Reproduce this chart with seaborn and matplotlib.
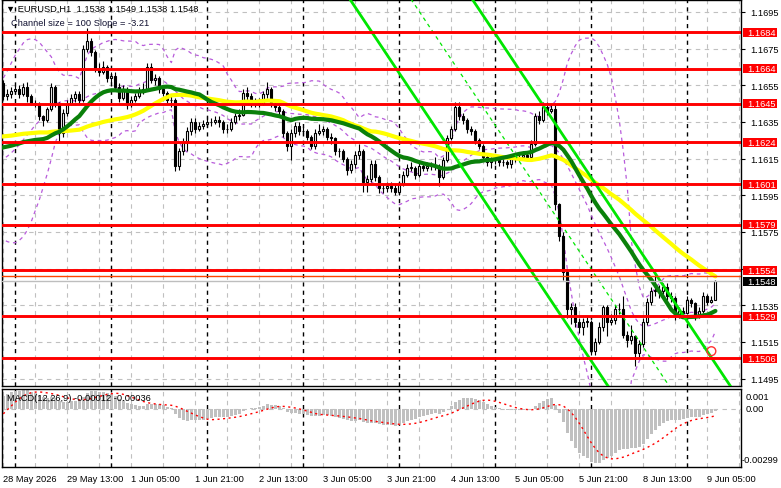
import numpy as np
import pandas as pd
import matplotlib
matplotlib.use('Agg')
import matplotlib.pyplot as plt
import matplotlib.transforms as mtransforms
from matplotlib.patches import Rectangle
import seaborn as sns

sns.set_style('white')
plt.rcParams['font.family'] = ['Liberation Sans', 'DejaVu Sans']

# H1 closes before the first visible bar (28 May), estimated from where the
# indicators start on the left edge; the last one is the open of bar 0
hist_closes = [1.1640, 1.1638, 1.1642, 1.1637, 1.1634, 1.1636, 1.1639, 1.1635, 1.1632, 1.1634,
               1.1638, 1.1641, 1.1637, 1.1633, 1.1630, 1.1632, 1.1636, 1.1640, 1.1639, 1.1635,
               1.1633, 1.1636, 1.1638, 1.1635, 1.1631, 1.1633, 1.1636, 1.1634, 1.1633,
               1.1632, 1.1628, 1.1622, 1.1615, 1.1610, 1.1604, 1.1600, 1.1596,
               1.1593, 1.1590, 1.1594, 1.1592, 1.1597, 1.1599, 1.1603,
               1.1612, 1.1626, 1.1638, 1.1648, 1.1654, 1.1656]

# visible EURUSD H1 bars, 28 May 21:00 -> 9 Jun 07:00
closes = [1.1649, 1.1650, 1.1652, 1.1653, 1.1650, 1.1654, 1.1649, 1.1645, 1.1645, 1.1638,
          1.1636, 1.1642, 1.1654, 1.1645, 1.1629, 1.1640, 1.1645, 1.1648, 1.1650, 1.1647,
          1.1675, 1.1679, 1.1673, 1.1664, 1.1662, 1.1665, 1.1659, 1.1660, 1.1654, 1.1648,
          1.1653, 1.1644, 1.1647, 1.1649, 1.1652, 1.1653, 1.1665, 1.1658, 1.1659, 1.1653,
          1.1651, 1.1647, 1.1647, 1.1611, 1.1619, 1.1624, 1.1630, 1.1635, 1.1631, 1.1633,
          1.1634, 1.1635, 1.1635, 1.1636, 1.1635, 1.1631, 1.1631, 1.1635, 1.1638, 1.1639,
          1.1651, 1.1649, 1.1645, 1.1645, 1.1645, 1.1650, 1.1653, 1.1645, 1.1643, 1.1641,
          1.1629, 1.1622, 1.1629, 1.1633, 1.1630, 1.1630, 1.1627, 1.1622, 1.1629, 1.1630,
          1.1631, 1.1627, 1.1626, 1.1619, 1.1619, 1.1615, 1.1609, 1.1612, 1.1617, 1.1619,
          1.1602, 1.1604, 1.1612, 1.1605, 1.1599, 1.1599, 1.1600, 1.1599, 1.1597, 1.1601,
          1.1606, 1.1610, 1.1610, 1.1606, 1.1611, 1.1610, 1.1611, 1.1611, 1.1611, 1.1605,
          1.1614, 1.1626, 1.1631, 1.1643, 1.1638, 1.1636, 1.1631, 1.1630, 1.1625, 1.1622,
          1.1616, 1.1613, 1.1614, 1.1614, 1.1613, 1.1613, 1.1612, 1.1615, 1.1615, 1.1616,
          1.1617, 1.1616, 1.1623, 1.1638, 1.1636, 1.1643, 1.1641, 1.1642, 1.1590, 1.1573,
          1.1553, 1.1533, 1.1534, 1.1526, 1.1523, 1.1526, 1.1526, 1.1510, 1.1515, 1.1523,
          1.1534, 1.1526, 1.1527, 1.1533, 1.1533, 1.1519, 1.1516, 1.1518, 1.1509, 1.1514,
          1.1526, 1.1537, 1.1543, 1.1543, 1.1543, 1.1545, 1.1540, 1.1539, 1.1529, 1.1532,
          1.1531, 1.1538, 1.1536, 1.1529, 1.1532, 1.1540, 1.1537, 1.1538, 1.1548]

highs = [1.1658, 1.1653, 1.1654, 1.1655, 1.1655, 1.1656, 1.1657, 1.1650, 1.1647, 1.1646,
         1.1639, 1.1643, 1.1656, 1.1655, 1.1646, 1.1642, 1.1647, 1.1650, 1.1652, 1.1652,
         1.1677, 1.1686, 1.1681, 1.1674, 1.1667, 1.1668, 1.1666, 1.1662, 1.1662, 1.1656,
         1.1655, 1.1654, 1.1649, 1.1651, 1.1654, 1.1656, 1.1667, 1.1667, 1.1661, 1.1660,
         1.1655, 1.1652, 1.1649, 1.1648, 1.1621, 1.1626, 1.1632, 1.1637, 1.1637, 1.1635,
         1.1636, 1.1638, 1.1637, 1.1638, 1.1638, 1.1636, 1.1634, 1.1637, 1.1640, 1.1642,
         1.1653, 1.1654, 1.1651, 1.1648, 1.1648, 1.1652, 1.1657, 1.1654, 1.1647, 1.1644,
         1.1642, 1.1630, 1.1631, 1.1635, 1.1635, 1.1632, 1.1631, 1.1628, 1.1631, 1.1634,
         1.1633, 1.1632, 1.1629, 1.1627, 1.1621, 1.1620, 1.1616, 1.1614, 1.1619, 1.1623,
         1.1620, 1.1606, 1.1614, 1.1614, 1.1606, 1.1601, 1.1602, 1.1602, 1.1601, 1.1603,
         1.1608, 1.1612, 1.1613, 1.1611, 1.1613, 1.1613, 1.1613, 1.1613, 1.1616, 1.1612,
         1.1616, 1.1628, 1.1633, 1.1646, 1.1646, 1.1640, 1.1637, 1.1633, 1.1631, 1.1626,
         1.1623, 1.1617, 1.1616, 1.1616, 1.1615, 1.1615, 1.1614, 1.1617, 1.1617, 1.1618,
         1.1619, 1.1619, 1.1625, 1.1640, 1.1641, 1.1646, 1.1646, 1.1645, 1.1645, 1.1591,
         1.1575, 1.1555, 1.1536, 1.1536, 1.1528, 1.1528, 1.1529, 1.1527, 1.1517, 1.1526,
         1.1535, 1.1535, 1.1530, 1.1535, 1.1536, 1.1540, 1.1521, 1.1524, 1.1519, 1.1516,
         1.1528, 1.1539, 1.1545, 1.1555, 1.1546, 1.1547, 1.1547, 1.1542, 1.1540, 1.1534,
         1.1534, 1.1540, 1.1539, 1.1537, 1.1534, 1.1542, 1.1541, 1.1540, 1.1549]

lows = [1.1647, 1.1647, 1.1648, 1.1650, 1.1648, 1.1649, 1.1646, 1.1644, 1.1643, 1.1636,
        1.1633, 1.1635, 1.1641, 1.1643, 1.1624, 1.1627, 1.1638, 1.1644, 1.1646, 1.1645,
        1.1646, 1.1673, 1.1671, 1.1662, 1.1660, 1.1661, 1.1657, 1.1656, 1.1652, 1.1646,
        1.1647, 1.1642, 1.1643, 1.1646, 1.1648, 1.1650, 1.1652, 1.1656, 1.1655, 1.1651,
        1.1649, 1.1645, 1.1643, 1.1608, 1.1609, 1.1617, 1.1619, 1.1628, 1.1629, 1.1630,
        1.1631, 1.1632, 1.1633, 1.1634, 1.1632, 1.1629, 1.1629, 1.1630, 1.1634, 1.1636,
        1.1638, 1.1646, 1.1643, 1.1643, 1.1643, 1.1644, 1.1648, 1.1643, 1.1641, 1.1638,
        1.1627, 1.1619, 1.1614, 1.1627, 1.1628, 1.1628, 1.1625, 1.1620, 1.1620, 1.1628,
        1.1628, 1.1625, 1.1623, 1.1617, 1.1616, 1.1613, 1.1606, 1.1607, 1.1610, 1.1615,
        1.1597, 1.1597, 1.1602, 1.1603, 1.1596, 1.1596, 1.1597, 1.1597, 1.1595, 1.1595,
        1.1600, 1.1605, 1.1608, 1.1604, 1.1605, 1.1608, 1.1608, 1.1609, 1.1609, 1.1600,
        1.1604, 1.1613, 1.1625, 1.1630, 1.1636, 1.1634, 1.1629, 1.1628, 1.1623, 1.1620,
        1.1614, 1.1611, 1.1610, 1.1612, 1.1611, 1.1611, 1.1610, 1.1610, 1.1613, 1.1614,
        1.1615, 1.1614, 1.1614, 1.1622, 1.1634, 1.1635, 1.1639, 1.1640, 1.1587, 1.1570,
        1.1549, 1.1528, 1.1525, 1.1523, 1.1520, 1.1519, 1.1523, 1.1508, 1.1508, 1.1514,
        1.1521, 1.1518, 1.1524, 1.1525, 1.1530, 1.1517, 1.1512, 1.1514, 1.1502, 1.1507,
        1.1512, 1.1524, 1.1535, 1.1540, 1.1539, 1.1541, 1.1538, 1.1537, 1.1527, 1.1528,
        1.1529, 1.1530, 1.1534, 1.1527, 1.1528, 1.1531, 1.1535, 1.1536, 1.1538]

time_labels = ['28 May 2026', '29 May 13:00', '1 Jun 05:00', '1 Jun 21:00', '2 Jun 13:00',
               '3 Jun 05:00', '3 Jun 21:00', '4 Jun 13:00', '5 Jun 05:00', '5 Jun 21:00',
               '8 Jun 13:00', '9 Jun 05:00']
label_bars = [0, 16, 32, 48, 64, 80, 96, 112, 128, 144, 160, 176]
day_start_bars = [3, 27, 51, 75, 99, 123, 147, 171]

levels = [1.1684, 1.1664, 1.1645, 1.1624, 1.1601, 1.1579, 1.1554, 1.1529, 1.1506]
price_ticks = [1.1695, 1.1675, 1.1655, 1.1635, 1.1615, 1.1595, 1.1575, 1.1555,
               1.1535, 1.1515, 1.1495]
bid = 1.1548
ask = 1.1551

# regression channel: two anchors on the lower line, width 100 points
chan_bars = [60, 190]
chan_lower = [1.1789, 1.1364]
chan_size = 0.0100
mark_bar = 177
mark_price = 1.1510

# ---- indicators (MA30, MA50, BB20, MACD 12/26/9) ----
allc = pd.Series(hist_closes + closes)
nh = len(hist_closes)
ind = pd.DataFrame({'bar': np.arange(len(allc)) - nh})
ind['ma30'] = allc.rolling(30).mean()
ind['ma50'] = allc.rolling(50).mean()
ind['bb_mid'] = allc.rolling(20).mean()
bb_std = allc.rolling(20).std(ddof=0)
ind['bb_up'] = ind['bb_mid'] + 2 * bb_std
ind['bb_lo'] = ind['bb_mid'] - 2 * bb_std
ind['macd'] = allc.ewm(span=12, adjust=False).mean() - allc.ewm(span=26, adjust=False).mean()
ind['signal'] = ind['macd'].rolling(9).mean()
vis = ind[ind['bar'] >= -1]

o = np.array([hist_closes[-1]] + closes[:-1])
c = np.array(closes)
h = np.array(highs)
l = np.array(lows)
xb = np.arange(len(c))

# ---- figure layout (pixel based, 781x489) ----
W, H = 781, 489
FS = 6.7
fig = plt.figure(figsize=(W / 100, H / 100), dpi=100)
ax = fig.add_axes([2 / W, 1 - 387 / H, 739 / W, 386 / H])
ax2 = fig.add_axes([2 / W, 1 - 468 / H, 739 / W, 78 / H])

xlim = (-0.33, 184.4)
grid_col = '#C0C0C0'
for a in (ax, ax2):
    a.set_xlim(*xlim)
    for xg in np.arange(0, 185, 8):
        a.axvline(xg, color=grid_col, lw=0.8, ls=(0, (4, 4)), zorder=0.5)
    for xd in day_start_bars:
        a.axvline(xd, color='black', lw=1.0, ls=(0, (3, 3)), zorder=0.6)
    for s in a.spines.values():
        s.set_color('black')
        s.set_linewidth(1.0)

# main panel
ylim = (1.1491, 1.17015)
ax.set_ylim(*ylim)
for p in price_ticks:
    ax.axhline(p, color=grid_col, lw=0.8, ls=(0, (4, 4)), zorder=0.5)

for col in ['bb_up', 'bb_mid', 'bb_lo']:
    sns.lineplot(data=vis, x='bar', y=col, ax=ax, color='#B85BDB', lw=0.9,
                 ls=(0, (3, 3)), zorder=2)

# candles
up = c >= o
body_lo = np.minimum(o, c)
body_h = np.maximum(np.abs(c - o), 0.00002)
ax.vlines(xb, l, h, color='black', lw=0.8, zorder=3)
ax.bar(xb[up], body_h[up], bottom=body_lo[up], width=0.55, color='white',
       edgecolor='black', lw=0.8, zorder=3.5)
ax.bar(xb[~up], body_h[~up], bottom=body_lo[~up], width=0.55, color='black',
       edgecolor='black', lw=0.8, zorder=3.5)

sns.lineplot(data=vis, x='bar', y='ma50', ax=ax, color='#FFFF00', lw=3.0, zorder=4)
sns.lineplot(data=vis, x='bar', y='ma30', ax=ax, color='#0A800A', lw=3.0, zorder=4.1)

# channel
cb = np.array(chan_bars)
cl = np.array(chan_lower)
ax.plot(cb, cl, color='#00E600', lw=2.0, zorder=4.5)
ax.plot(cb, cl + chan_size, color='#00E600', lw=2.0, zorder=4.5)
ax.plot(cb, cl + chan_size / 2, color='#00E600', lw=0.9, ls=(0, (3, 3)), zorder=4.5)

for lv in levels:
    ax.axhline(lv, color='#FF0000', lw=2.1, zorder=5)
ax.axhline(ask, color='#FF4500', lw=1.0, zorder=5)
ax.axhline(bid, color='#BEBEBE', lw=1.0, zorder=5)
ax.scatter([mark_bar], [mark_price], s=40, facecolors='none', edgecolors='#FF3030', lw=1.0, zorder=6)

ax.set_xticks([])
ax.set_xlabel('')
ax.set_ylabel('')
ax.yaxis.tick_right()
ax.set_yticks(price_ticks)
# a scale label sitting under a level tag is hidden, as in the terminal
tick_text = ['' if min(abs(p - lv) for lv in levels) < 0.0003 else f'{p:.4f}' for p in price_ticks]
ax.set_yticklabels(tick_text)
ax.tick_params(axis='y', length=3, width=0.8, direction='out', pad=4, labelsize=FS, colors='black')

# price tags on the right scale: tight boxes like the terminal draws
ytr = mtransforms.blended_transform_factory(ax.transAxes, ax.transData)
px = (ylim[1] - ylim[0]) / 386
tag_x0 = 1.0 + 2 / 739
tag_w = 34 / 739


def price_tag(price, face):
    ax.add_patch(Rectangle((tag_x0, price - 4.5 * px), tag_w, 9 * px, transform=ytr,
                           fc=face, ec='none', clip_on=False, zorder=9))
    ax.text(tag_x0 + 4 / 739, price, f'{price:.4f}', transform=ytr, color='white',
            fontsize=FS, va='center', ha='left', clip_on=False, zorder=10)


for lv in levels:
    price_tag(lv, '#FF0000')
price_tag(bid, 'black')

fig.text(6 / W, 1 - 9 / H, '\u25bc EURUSD,H1  1.1538 1.1549 1.1538 1.1548', fontsize=FS,
         va='center', ha='left', color='black')
fig.text(11 / W, 1 - 23 / H, 'Channel size = 100 Slope = -3.21', fontsize=FS,
         va='center', ha='left', color='#101030')

# MACD panel
ax2.set_ylim(-0.00299, 0.00100)
ax2.axhline(0, color=grid_col, lw=0.8, ls=(0, (4, 4)), zorder=0.5)
mv = vis[vis['bar'] >= 0]
ax2.bar(mv['bar'], mv['macd'], width=0.72, color='#C0C0C0', lw=0, zorder=2)
sns.lineplot(data=vis, x='bar', y='signal', ax=ax2, color='#FF0000', lw=1.0,
             ls=(0, (1.5, 2.5)), zorder=3)
ax2.set_xlabel('')
ax2.set_ylabel('')
ax2.set_yticks([])
ax2.set_xticks(label_bars)
ax2.set_xticklabels(time_labels, ha='left')
ax2.tick_params(axis='x', length=3, width=0.8, direction='out', pad=2, labelsize=FS, colors='black')
fig.text(7 / W, 1 - 399 / H, 'MACD(12,26,9) -0.00012 -0.00036', fontsize=FS, va='center',
         ha='left', color='black')
for txt, xx, yy in [('0.001', 746, 397), ('0.00', 746, 410), ('-0.00299', 742, 461)]:
    fig.text(xx / W, 1 - yy / H, txt, fontsize=FS, va='center', ha='left', color='black')

fig.savefig('out.png', dpi=100)
